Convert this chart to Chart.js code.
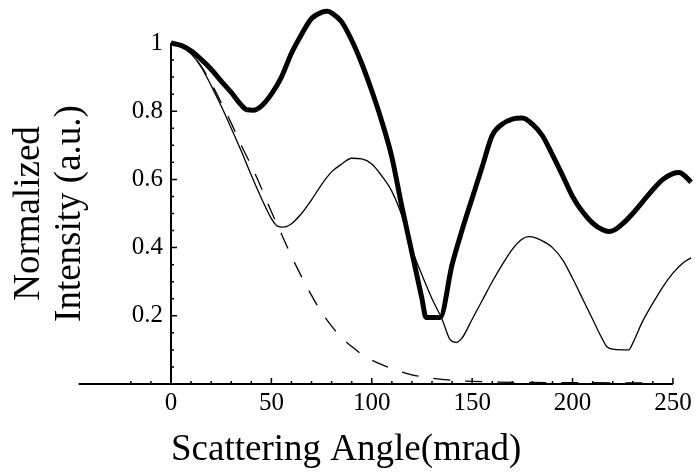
<!DOCTYPE html>
<html>
<head>
<meta charset="utf-8">
<script src="https://cdn.jsdelivr.net/npm/chart.js@4.4.0/dist/chart.umd.min.js"></script>
<style>
  html, body { margin: 0; padding: 0; background: #fff; }
</style>
</head>
<body>
<canvas id="mycanvas" width="699" height="472"></canvas>
<script>
// thick curve
var thickX = [0,5,10,15,20,25,30,35,38,41,45,50,55,60,65,70,75,78,80,85,90,95,100,105,110,115,120,125,127,134,140,145,150,155,160,165,170,175,180,185,190,195,200,205,210,215,218,221,225,230,235,240,245,250,253,256,259];
var thickY = [1.0,0.993,0.977,0.952,0.923,0.888,0.855,0.818,0.804,0.803,0.815,0.85,0.90,0.97,1.025,1.072,1.09,1.093,1.088,1.062,1.008,0.94,0.86,0.77,0.665,0.52,0.385,0.25,0.195,0.195,0.35,0.452,0.545,0.637,0.729,0.762,0.777,0.78,0.762,0.728,0.672,0.612,0.55,0.505,0.472,0.452,0.447,0.452,0.47,0.50,0.535,0.57,0.60,0.617,0.62,0.61,0.592];

// thin solid curve
var thinX = [0,5,10,15,20,25,30,35,40,45,50,53,56,60,65,70,75,80,85,90,95,100,105,110,115,120,124,130,135,139,142,145,150,155,160,165,170,175,178,182,187,190,195,200,205,210,215,217,220,225,228,230,235,240,245,250,255,259];
var thinY = [1.0,0.99,0.968,0.93,0.875,0.815,0.75,0.683,0.612,0.545,0.485,0.463,0.46,0.47,0.50,0.54,0.585,0.622,0.645,0.662,0.66,0.645,0.61,0.565,0.494,0.395,0.334,0.25,0.19,0.13,0.122,0.135,0.19,0.245,0.30,0.35,0.395,0.425,0.432,0.428,0.413,0.40,0.365,0.31,0.25,0.19,0.13,0.11,0.102,0.1,0.1,0.12,0.185,0.237,0.285,0.325,0.355,0.37];

// dashed curve
var dashX = [0,5,10,15,20,25,30,35,40,45,50,55,60,65,70,75,80,85,90,95,100,110,120,130,140,160,200,242];
var dashY = [1.0,0.99,0.968,0.932,0.882,0.825,0.765,0.70,0.64,0.575,0.505,0.44,0.375,0.315,0.26,0.21,0.17,0.135,0.11,0.087,0.07,0.045,0.027,0.017,0.011,0.006,0.004,0.003];

var xTickValues = [0,50,100,150,200,250];
var yTickValues = [0.2,0.4,0.6,0.8,1];
var yTickLabels = ['0.2','0.4','0.6','0.8','1'];
var xAxisStart = -46;
var xAxisEnd = 250;

function pts(xs, ys) {
	var out = [];
	for (var i in xs) {
		out.push({x: xs[i], y: ys[i]});
	}
	return out;
}

// axis lines with inward ticks, drawn through the scales
var axesPlugin = {
	id: 'axes',
	beforeDatasetsDraw: function(chart) {
		var c = chart.ctx, x = chart.scales.x, y = chart.scales.y;
		var x0 = x.getPixelForValue(0), y0 = y.getPixelForValue(0);
		c.save();
		c.strokeStyle = '#000';
		c.lineWidth = 2;
		c.beginPath();
		c.moveTo(x.getPixelForValue(xAxisStart), y0);
		c.lineTo(x.getPixelForValue(xAxisEnd), y0);
		c.moveTo(x0, y0 + 1);
		c.lineTo(x0, y.getPixelForValue(1));
		c.stroke();
		c.lineWidth = 1.5;
		c.beginPath();
		for (var v = -20; v <= xAxisEnd; v += 10) {
			var px = x.getPixelForValue(v);
			var len = (v % 50 === 0) ? 6 : 3;
			c.moveTo(px, y0);
			c.lineTo(px, y0 - len);
		}
		for (var k = 1; k <= 20; k++) {
			var py = y.getPixelForValue(k * 0.05);
			var l2 = (k % 4 === 0) ? 6 : 3;
			c.moveTo(x0, py);
			c.lineTo(x0 + l2, py);
		}
		c.stroke();
		c.restore();
	}
};

var serif = 'Liberation Serif, Times New Roman, serif';

var chartdata = {
	datasets: [
		{
			label: 'thick',
			data: pts(thickX, thickY),
			borderColor: '#000',
			borderWidth: 5,
			cubicInterpolationMode: 'monotone',
			clip: false
		},
		{
			label: 'thin',
			data: pts(thinX, thinY),
			borderColor: '#000',
			borderWidth: 1.3,
			cubicInterpolationMode: 'monotone',
			clip: false
		},
		{
			label: 'dashed',
			data: pts(dashX, dashY),
			borderColor: '#000',
			borderWidth: 1.3,
			borderDash: [17, 15],
			cubicInterpolationMode: 'monotone',
			clip: false
		}
	]
};

var ctx = document.getElementById('mycanvas');

var lineGraph = new Chart(ctx, {
	type: 'line',
	data: chartdata,
	plugins: [axesPlugin],
	options: {
		responsive: false,
		animation: false,
		layout: { padding: { top: 43, right: 8, bottom: 0, left: 0 } },
		elements: { point: { radius: 0 } },
		plugins: {
			legend: { display: false },
			tooltip: { enabled: false }
		},
		scales: {
			x: {
				type: 'linear',
				min: 0,
				max: 259,
				grid: { display: false, drawTicks: false },
				border: { display: false },
				afterBuildTicks: function(s) {
					s.ticks = xTickValues.map(function(v) { return {value: v}; });
				},
				ticks: {
					font: { family: serif, size: 25 },
					color: '#000',
					padding: 4,
					maxRotation: 0,
					autoSkip: false
				},
				title: {
					display: true,
					text: 'Scattering Angle(mrad)',
					align: 'start',
					color: '#000',
					font: { family: serif, size: 37, lineHeight: 1.2 },
					padding: 0
				},
				afterFit: function(s) { s.height = 88; }
			},
			y: {
				type: 'linear',
				min: 0,
				max: 1,
				grid: { display: false, drawTicks: false },
				border: { display: false },
				afterBuildTicks: function(s) {
					s.ticks = yTickValues.map(function(v) { return {value: v}; });
				},
				ticks: {
					font: { family: serif, size: 25 },
					color: '#000',
					padding: 8,
					callback: function(value) {
						return yTickLabels[yTickValues.indexOf(value)];
					}
				},
				title: {
					display: true,
					text: ['Normalized', 'Intensity (a.u.)'],
					color: '#000',
					font: { family: serif, size: 37, lineHeight: 1.11 },
					padding: { top: 9, bottom: 0 }
				},
				afterFit: function(s) { s.width = 171; }
			}
		}
	}
});
</script>
</body>
</html>
